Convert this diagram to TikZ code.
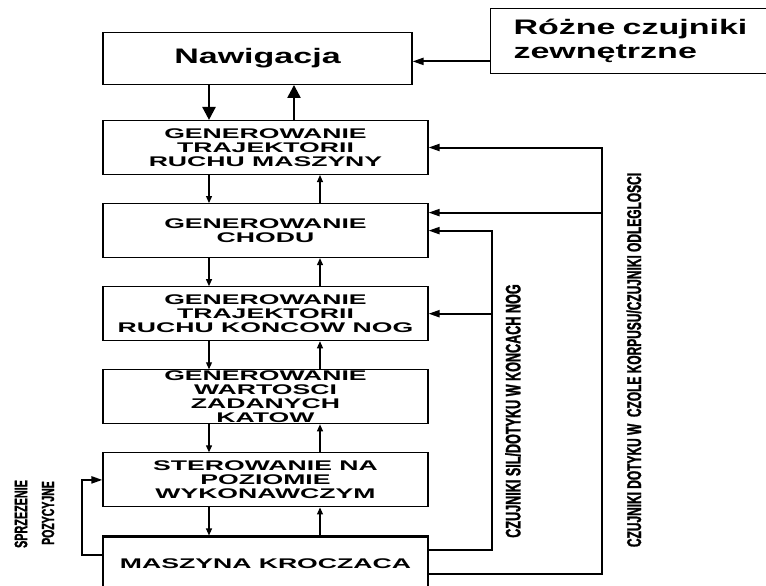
\documentclass[tikz,border=0pt]{standalone}
\usepackage{fontspec}
\usetikzlibrary{positioning, arrows.meta}
\newfontfamily\boxfont[FakeStretch=1.9]{Liberation Sans}
\newfontfamily\navfont[FakeStretch=1.62]{Liberation Sans}
\newfontfamily\sidefont[FakeStretch=0.6, FakeBold=1.2]{Liberation Sans}

\begin{document}
\begin{tikzpicture}[x=1pt, y=-1pt, node distance=28pt,
        block/.style={draw, line width=1.1pt, minimum width=325pt, minimum height=54pt, inner sep=0pt, align=center,
            font=\boxfont\bfseries\fontsize{14}{14}\selectfont},
        navbox/.style={draw, line width=1.1pt, inner sep=0pt, font=\navfont\bfseries\fontsize{21}{24}\selectfont},
        sidelabel/.style={rotate=90, inner sep=0pt, font=\sidefont\bfseries\fontsize{#1}{#1}\selectfont},
        bigarrow/.style={-{Triangle[length=13pt,width=13pt]}, line width=2.4pt},
        smallarrow/.style={-{Triangle[length=7pt,width=6pt]}, line width=1.1pt},
        fb/.style={-{Triangle[length=11pt,width=7pt]}, line width=2pt}]
        \path[fill=white] (0,0) rectangle (766,586);
        \useasboundingbox (0,0) rectangle (766,586);

        % the chain of blocks
        \node[block] (gen1) at (265.5,147.5) {GENEROWANIE\\TRAJEKTORII\\RUCHU MASZYNY};
        \node[block, below=of gen1] (gen2) {GENEROWANIE\\CHODU};
        \node[block, below=of gen2] (gen3) {GENEROWANIE\\TRAJEKTORII\\RUCHU KONCOW NOG};
        \node[block, below=of gen3] (gen4) {GENEROWANIE\\WARTOSCI\\ZADANYCH\\KATOW};
        \node[block, below=of gen4] (ster) {STEROWANIE NA\\POZIOMIE\\WYKONAWCZYM};
        \node[block, below=of ster, line width=2.5pt] (maszyna) {MASZYNA KROCZACA};

        \node[navbox, minimum width=309pt, minimum height=52pt, above=35pt of gen1.north west, anchor=south west] (nav) {Nawigacja};
        \node[navbox, anchor=north west, minimum height=65pt, text width=240pt, inner xsep=23pt, align=left] (czuj) at (490,8) {Różne czujniki\\zewnętrzne};

        % side labels
        \node[sidelabel=21] (silnogi) at (513,411) {CZUJNIKI SIL/DOTYKU W KONCACH NOG};
        \node[sidelabel=19.9] (czolo) at (634,360) {CZUJNIKI DOTYKU W\ \ CZOLE KORPUSU/CZUJNIKI ODLEGLOSCI};
        \node[sidelabel=18] (sprz) at (21,514) {SPRZEZENIE};
        \node[sidelabel=17.5] (pozyc) at (48,513) {POZYCYJNE};

        \coordinate (downx) at (209,0);
        \coordinate (upx) at (320,0);
        \coordinate (navupx) at (294,0);
        \coordinate (busA) at (492,0);
        \coordinate (busB) at (602,0);
        \coordinate (loopx) at (82,0);
        \coordinate (navin) at ([yshift=-3pt]nav.east);
        \coordinate (gen2hi) at ([yshift=18pt]gen2.east);

        % main flow
        \draw[bigarrow] (nav.south -| downx) -- (gen1.north -| downx);
        \draw[bigarrow] (gen1.north -| navupx) -- (nav.south -| navupx);
        \foreach \a/\b in {gen1/gen2, gen2/gen3, gen3/gen4, gen4/ster, ster/maszyna} {
            \draw[smallarrow] (\a.south -| downx) -- (\b.north -| downx);
            \draw[smallarrow] (\b.north -| upx) -- (\a.south -| upx);
        }
        \draw[fb] (navin -| czuj.west) -- (navin);

        % feedback
        \draw[fb] ([yshift=14pt]maszyna.east) -| (gen2.east -| busA) -- (gen2.east);
        \draw[fb] (gen3.east -| busA) -- (gen3.east);
        \draw[fb] ([yshift=-10pt]maszyna.east) -| (gen1.east -| busB) -- (gen1.east);
        \draw[fb] (gen2hi -| busB) -- (gen2hi);
        \draw[fb] ([yshift=9pt]maszyna.west) -| (ster.west -| loopx) -- (ster.west);
    \end{tikzpicture}
\end{document}
